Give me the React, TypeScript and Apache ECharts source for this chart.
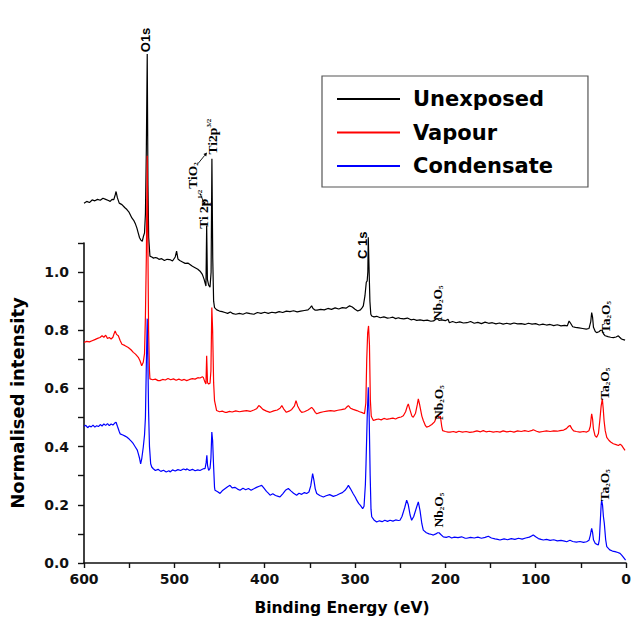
import React, { useEffect, useRef } from 'react';
import * as echarts from 'echarts';

const seriesNames = ['Unexposed', 'Vapour', 'Condensate'];
const seriesColors = ['#000000', '#ff0000', '#0000ff'];

const xLabelValues = [600, 500, 400, 300, 200, 100, 0];
const yLabelValues = ['0.0', '0.2', '0.4', '0.6', '0.8', '1.0'];

// [binding energy (eV), normalised intensity]
const unexposed: [number, number][] = [
  [600, 1.237], [597, 1.243], [594, 1.239], [591, 1.248], [588, 1.245], [585, 1.25], [582, 1.247],
  [579, 1.254], [576, 1.25], [573, 1.246], [571, 1.243], [569, 1.25], [567, 1.249], [565.5, 1.265],
  [564.5, 1.277], [563, 1.255], [561, 1.237], [558, 1.232], [555, 1.222], [552.5, 1.215], [550, 1.205],
  [547, 1.186], [545, 1.178], [543, 1.165], [541.5, 1.152], [540, 1.135], [538.5, 1.118], [537, 1.11],
  [535.5, 1.106], [534, 1.125], [533, 1.135], [532, 1.2], [531, 1.42], [530, 1.75], [529.2, 1.3],
  [528.4, 1.12], [527, 1.055], [525, 1.052], [523, 1.048], [521, 1.05], [519.5, 1.049], [517, 1.044],
  [514, 1.046], [511, 1.04], [508, 1.044], [505, 1.043], [502, 1.038], [499, 1.052], [497.5, 1.072],
  [496, 1.045], [494, 1.04], [491, 1.035], [488, 1.03], [485, 1.031], [482.7, 1.026], [480, 1.02],
  [477, 1.015], [474, 1.01], [471.5, 1.003], [469, 0.992], [467, 0.975], [466, 0.963], [465, 0.952],
  [464.2, 1.16], [463.4, 0.975], [462, 0.955], [460.5, 0.948], [459.3, 1.0], [458.4, 1.39], [457.5, 1.05],
  [456.5, 0.9], [455.5, 0.878], [453, 0.87], [450, 0.866], [447, 0.864], [444, 0.861], [441, 0.858],
  [438, 0.863], [435, 0.857], [432, 0.855], [428, 0.858], [424, 0.855], [420, 0.86], [416, 0.857],
  [412, 0.855], [408, 0.861], [404, 0.858], [400, 0.862], [396, 0.858], [392, 0.862], [388, 0.86],
  [384, 0.864], [380, 0.861], [376, 0.866], [372, 0.864], [368, 0.867], [364, 0.863], [360, 0.866],
  [356, 0.868], [352, 0.87], [349.5, 0.878], [348, 0.884], [346.5, 0.875], [344, 0.869], [342, 0.869],
  [338, 0.872], [334, 0.87], [330, 0.875], [326, 0.872], [322, 0.877], [318, 0.873], [314, 0.878],
  [310, 0.876], [306, 0.884], [303, 0.88], [300, 0.872], [297, 0.866], [294, 0.87], [292, 0.878],
  [290.8, 0.884], [289, 0.918], [287.5, 0.965], [286.5, 0.97], [285.8, 1.0], [285.3, 1.12], [284.5, 1.02],
  [283.5, 0.9], [282.5, 0.855], [281.5, 0.849], [279, 0.846], [276, 0.848], [272, 0.843], [268, 0.846],
  [264, 0.842], [261, 0.843], [258, 0.845], [255, 0.84], [252, 0.843], [250, 0.841], [246, 0.839],
  [242, 0.842], [238, 0.836], [235, 0.838], [231.7, 0.834], [228, 0.836], [224, 0.833], [220, 0.835],
  [216, 0.831], [213, 0.832], [210.5, 0.838], [209, 0.84], [207, 0.834], [204, 0.836], [200, 0.833],
  [197, 0.838], [195.5, 0.826], [192, 0.83], [188, 0.826], [184, 0.829], [180, 0.825], [176, 0.826],
  [172, 0.83], [168, 0.824], [164, 0.827], [160, 0.823], [156, 0.828], [152, 0.824], [148, 0.826],
  [144, 0.822], [140, 0.825], [136, 0.821], [132, 0.824], [128, 0.821], [124, 0.825], [120, 0.822],
  [116, 0.823], [112, 0.82], [108, 0.824], [104, 0.821], [100, 0.823], [96, 0.818], [92, 0.821],
  [88, 0.818], [84, 0.82], [80, 0.816], [76, 0.819], [72, 0.815], [68, 0.817], [65, 0.815], [63, 0.832],
  [61.5, 0.825], [59, 0.812], [56, 0.81], [52, 0.808], [48, 0.806], [44, 0.804], [41, 0.806], [39, 0.83],
  [38, 0.861], [37, 0.845], [36, 0.81], [34, 0.796], [32.5, 0.792], [30, 0.795], [28, 0.8], [26.5, 0.8],
  [25, 0.788], [23, 0.781], [20, 0.778], [17, 0.776], [14, 0.775], [11, 0.777], [8.5, 0.781], [7, 0.776],
  [5, 0.77], [3, 0.768], [1, 0.766],
];

const vapour: [number, number][] = [
  [600, 0.758], [597, 0.762], [594, 0.76], [591, 0.764], [588, 0.768], [585, 0.772], [582.3, 0.775],
  [580, 0.781], [578, 0.776], [576, 0.783], [574, 0.772], [572, 0.775], [570, 0.77], [568, 0.776],
  [566.5, 0.79], [565.5, 0.798], [564, 0.786], [562, 0.781], [560, 0.765], [558, 0.752], [555, 0.748],
  [551, 0.741], [548, 0.733], [545.4, 0.724], [543, 0.718], [539.9, 0.707], [538, 0.695], [536.1, 0.678],
  [534.4, 0.69], [533, 0.72], [532, 0.85], [531, 1.05], [530, 1.4], [529.3, 1.1], [528.5, 0.8],
  [527.5, 0.66], [527, 0.633], [524, 0.63], [521, 0.632], [518, 0.627], [515.9, 0.627], [513, 0.631],
  [510, 0.629], [507, 0.634], [504, 0.63], [501, 0.633], [498, 0.628], [495, 0.632], [492, 0.628],
  [489, 0.631], [486.3, 0.627], [483, 0.631], [480, 0.634], [477, 0.632], [474, 0.637], [471.6, 0.636],
  [469, 0.64], [467.9, 0.638], [466.5, 0.625], [465, 0.615], [464.2, 0.712], [463.3, 0.62], [462, 0.615],
  [460.5, 0.618], [459.5, 0.66], [458.5, 0.878], [457.6, 0.8], [456.5, 0.62], [455.5, 0.558],
  [453.2, 0.524], [450, 0.52], [447, 0.522], [444, 0.518], [442, 0.518], [439, 0.521], [436, 0.519],
  [432, 0.523], [428, 0.52], [424, 0.522], [420, 0.524], [416, 0.521], [412, 0.526], [409, 0.53],
  [406.5, 0.541], [405, 0.538], [402, 0.528], [398, 0.522], [394, 0.518], [390, 0.523], [386, 0.526],
  [383, 0.532], [381, 0.541], [379, 0.53], [376, 0.518], [373, 0.522], [370, 0.528], [367, 0.54],
  [365.3, 0.558], [363.5, 0.54], [361, 0.525], [359, 0.518], [356, 0.52], [352, 0.526], [350, 0.53],
  [348, 0.535], [346, 0.528], [344, 0.518], [342.4, 0.513], [339, 0.517], [335, 0.52], [331, 0.522],
  [327, 0.524], [323, 0.522], [319, 0.525], [315, 0.527], [311, 0.53], [308.5, 0.538], [307.3, 0.541],
  [305, 0.532], [302, 0.528], [298, 0.524], [295, 0.52], [292, 0.517], [289.5, 0.513], [288, 0.55],
  [287, 0.7], [286, 0.79], [285, 0.815], [284, 0.75], [283, 0.56], [282, 0.505], [281.5, 0.501],
  [279.7, 0.49], [277, 0.493], [274, 0.495], [271, 0.492], [268, 0.497], [265, 0.494], [261, 0.496],
  [258, 0.498], [255, 0.495], [252, 0.5], [249, 0.502], [246.5, 0.506], [244, 0.52], [242, 0.54],
  [241, 0.547], [239.5, 0.53], [237, 0.505], [235.5, 0.501], [233, 0.515], [231, 0.545], [229.9, 0.564],
  [228.5, 0.545], [226, 0.505], [224.4, 0.49], [222, 0.472], [220.7, 0.467], [218, 0.47], [215, 0.476],
  [212, 0.485], [210, 0.5], [208.5, 0.507], [207, 0.5], [205.5, 0.505], [204, 0.47], [203, 0.455],
  [200, 0.452], [197, 0.45], [194.8, 0.45], [191, 0.452], [188, 0.449], [185, 0.453], [181, 0.45],
  [177, 0.452], [173, 0.449], [169, 0.451], [165, 0.454], [161, 0.451], [158, 0.455], [155, 0.451],
  [151, 0.453], [147, 0.45], [143, 0.452], [139.5, 0.45], [136, 0.454], [132, 0.451], [128, 0.453],
  [124, 0.45], [120, 0.454], [116, 0.452], [112, 0.455], [108, 0.452], [104, 0.456], [102.6, 0.458],
  [99, 0.453], [96, 0.45], [92, 0.452], [88, 0.454], [84, 0.452], [80, 0.454], [76, 0.453], [73, 0.455],
  [69, 0.457], [66, 0.462], [63.5, 0.47], [62, 0.473], [60, 0.462], [58, 0.454], [55, 0.452], [51, 0.45],
  [47, 0.452], [43.6, 0.45], [41, 0.455], [39.5, 0.47], [38.5, 0.5], [38, 0.513], [37, 0.495], [36, 0.46],
  [34.3, 0.438], [32.5, 0.432], [30.5, 0.445], [29, 0.49], [27.5, 0.54], [26.2, 0.564], [25.2, 0.53],
  [24.3, 0.49], [23, 0.455], [21.3, 0.432], [19, 0.422], [17, 0.416], [14, 0.41], [11, 0.407],
  [8.4, 0.404], [6.5, 0.408], [5, 0.405], [3, 0.396], [1.1, 0.387],
];

const condensate: [number, number][] = [
  [600, 0.47], [598, 0.473], [596, 0.465], [594, 0.471], [592, 0.468], [590, 0.474], [588, 0.467],
  [586, 0.472], [584, 0.469], [582, 0.476], [580, 0.471], [578, 0.478], [576, 0.473], [574, 0.479],
  [572, 0.472], [570, 0.478], [568, 0.474], [566, 0.481], [564.5, 0.484], [563, 0.47], [561, 0.452],
  [560, 0.444], [557, 0.44], [555, 0.437], [552.7, 0.433], [550, 0.426], [547.5, 0.418], [545.4, 0.41],
  [543, 0.398], [541, 0.388], [539.9, 0.376], [538.5, 0.36], [537.3, 0.341], [536, 0.36], [534.4, 0.398],
  [533, 0.44], [532, 0.5], [531, 0.68], [530, 0.84], [529.3, 0.7], [528.5, 0.52], [527.5, 0.4],
  [526.2, 0.341], [525, 0.33], [523.3, 0.324], [521, 0.318], [518, 0.322], [515, 0.315], [512, 0.319],
  [509, 0.313], [506, 0.317], [504.8, 0.313], [502, 0.32], [499, 0.316], [496, 0.321], [493, 0.318],
  [490, 0.323], [487, 0.32], [486.3, 0.324], [483, 0.318], [480, 0.322], [477, 0.317], [474, 0.32],
  [471.6, 0.318], [469, 0.322], [467, 0.325], [466, 0.324], [464.8, 0.345], [464, 0.37], [463.2, 0.335],
  [462, 0.318], [460.5, 0.325], [459.5, 0.36], [458.5, 0.45], [457.6, 0.42], [456.5, 0.33],
  [455.5, 0.26], [455, 0.25], [452, 0.245], [449.4, 0.239], [447, 0.248], [444, 0.255], [441, 0.262],
  [438.4, 0.267], [436, 0.258], [433, 0.26], [430, 0.254], [427.3, 0.25], [424, 0.257], [421, 0.252],
  [418, 0.256], [415, 0.25], [412, 0.255], [409, 0.26], [406, 0.264], [403.3, 0.267], [401, 0.258],
  [398, 0.246], [396, 0.24], [394, 0.233], [391, 0.238], [388, 0.232], [385, 0.229], [383, 0.227],
  [380, 0.238], [377, 0.25], [373.8, 0.256], [371, 0.248], [368, 0.24], [364.6, 0.233], [362, 0.24],
  [359, 0.236], [356, 0.242], [353.5, 0.239], [351, 0.244], [349, 0.265], [347.5, 0.295], [346.9, 0.307],
  [345.5, 0.285], [344, 0.255], [342.4, 0.239], [339, 0.232], [335, 0.227], [332, 0.231], [328, 0.235],
  [324, 0.229], [320.3, 0.233], [317, 0.238], [314, 0.242], [311, 0.25], [309, 0.258], [307.3, 0.267],
  [305, 0.255], [302, 0.238], [299.5, 0.225], [298.1, 0.216], [296, 0.205], [294, 0.198], [291.5, 0.187],
  [290, 0.195], [288.5, 0.27], [287.8, 0.341], [286.5, 0.5], [285.3, 0.604], [284.3, 0.5], [283.2, 0.3],
  [282.3, 0.185], [281.5, 0.159], [279, 0.148], [276, 0.141], [273, 0.145], [270, 0.142], [267, 0.147],
  [264, 0.143], [261.2, 0.147], [258, 0.144], [255, 0.148], [252, 0.146], [250.2, 0.147], [248, 0.16],
  [245, 0.19], [242.8, 0.216], [241, 0.2], [239, 0.165], [237.3, 0.147], [235, 0.16], [232, 0.19],
  [229.9, 0.21], [228, 0.18], [226, 0.135], [224.4, 0.113], [221, 0.104], [218, 0.1], [215, 0.098],
  [213.3, 0.096], [210.5, 0.1], [208.5, 0.104], [207, 0.104], [205, 0.098], [202.2, 0.09], [199, 0.088],
  [196, 0.091], [193, 0.086], [190, 0.089], [186, 0.087], [182, 0.09], [178, 0.085], [176.4, 0.085],
  [172, 0.088], [168, 0.086], [164, 0.089], [160, 0.085], [156, 0.088], [152.4, 0.092], [149, 0.086],
  [145, 0.083], [142, 0.081], [139.5, 0.079], [135, 0.083], [131, 0.08], [127, 0.084], [123, 0.081],
  [119, 0.085], [115, 0.082], [111, 0.086], [107, 0.089], [104, 0.094], [102.6, 0.096], [100, 0.09],
  [97, 0.084], [94, 0.081], [91.5, 0.079], [88, 0.081], [84, 0.078], [80, 0.08], [76, 0.076], [72, 0.078],
  [68, 0.075], [65.7, 0.073], [62, 0.078], [59, 0.074], [55, 0.072], [51, 0.074], [47, 0.071],
  [43.6, 0.073], [41, 0.078], [39.5, 0.095], [38.5, 0.112], [38, 0.119], [37, 0.105], [36, 0.08],
  [34, 0.067], [32, 0.064], [30.6, 0.062], [29.5, 0.08], [28.5, 0.14], [27.5, 0.2], [27, 0.216],
  [26, 0.2], [25, 0.16], [24, 0.136], [22.5, 0.08], [21.3, 0.056], [18, 0.045], [15, 0.041], [12.1, 0.039],
  [9, 0.036], [6.6, 0.033], [4.8, 0.027], [3, 0.02], [1.5, 0.014], [0.5, 0.01],
];

// Peak annotations: rich-text content, anchored at [eV, intensity]
const peakLabels = [
  { text: '{a|O1s}', at: [531.4, 1.798] },
  { text: '{m|TiO}{sub|2}', at: [480.4, 1.332] },
  { text: '{m|Ti 2p}{sup|1/2}', at: [467.8, 1.216] },
  { text: '{m|Ti2p}{sup|3/2}', at: [457.7, 1.466] },
  { text: '{a|C 1s}', at: [292.2, 1.092] },
  { text: '{m|Nb}{sub|2}{m|O}{sub|5}', at: [209.2, 0.894] },
  { text: '{m|Ta}{sub|2}{m|O}{sub|5}', at: [23.2, 0.846] },
  { text: '{m|Nb}{sub|2}{m|O}{sub|5}', at: [208.1, 0.551] },
  { text: '{m|Ta}{sub|2}{m|O}{sub|5}', at: [24.3, 0.616] },
  { text: '{m|Nb}{sub|2}{m|O}{sub|5}', at: [208.1, 0.182] },
  { text: '{m|Ta}{sub|2}{m|O}{sub|5}', at: [24.3, 0.267] },
];

// Leader arrows from the TiO2 label, [eV, intensity] endpoints
const leaderArrows = [
  { from: [473.8, 1.373], to: [463.8, 1.411] },
  { from: [471.6, 1.271], to: [466.0, 1.229] },
];

const data = [unexposed, vapour, condensate];

export default function App() {
  const ref = useRef<HTMLDivElement>(null);

  useEffect(() => {
    if (!ref.current) return;
    const chart = echarts.init(ref.current, undefined, { renderer: 'svg' });
    const boldSans = 'DejaVu Sans';

    const option: any = {
      animation: false,
      backgroundColor: '#ffffff',
      grid: { left: 84, right: 5, top: 243, bottom: 62, containLabel: false, outerBoundsMode: 'none' },
      legend: {
        data: seriesNames,
        orient: 'vertical',
        left: 322,
        top: 76,
        icon: 'rect',
        itemWidth: 63,
        itemHeight: 2,
        itemGap: 12.5,
        padding: [12.5, 35, 10.5, 15],
        borderColor: '#555',
        borderWidth: 1.2,
        backgroundColor: '#ffffff',
        selectedMode: false,
        textStyle: {
          fontFamily: boldSans,
          fontWeight: 'bold',
          fontSize: 21,
          lineHeight: 21,
          color: '#000',
          padding: [0, 0, 0, 8],
        },
      },
      xAxis: {
        type: 'value',
        min: 0,
        max: 600,
        interval: 50,
        inverse: true,
        name: 'Binding Energy (eV)',
        nameLocation: 'middle',
        nameGap: 37,
        nameTextStyle: {
          fontFamily: boldSans,
          fontWeight: 'bold',
          fontSize: 15.5,
          color: '#000',
          padding: [0, 26, 0, 0],
        },
        axisLine: { onZero: false, lineStyle: { color: '#111', width: 1.6 } },
        axisTick: { show: true, length: 5, lineStyle: { color: '#111', width: 1.4 } },
        axisLabel: {
          margin: 9,
          fontFamily: boldSans,
          fontWeight: 'bold',
          fontSize: 14,
          color: '#111',
          formatter: (v: number) => (xLabelValues.includes(Math.round(v)) ? String(Math.round(v)) : ''),
        },
        splitLine: { show: false },
      },
      yAxis: {
        type: 'value',
        min: 0,
        max: 1.1,
        interval: 0.1,
        position: 'left',
        name: 'Normalised intensity',
        nameLocation: 'middle',
        nameGap: 58,
        nameTextStyle: {
          fontFamily: boldSans,
          fontWeight: 'bold',
          fontSize: 18,
          color: '#000',
        },
        axisLine: { show: true, onZero: false, lineStyle: { color: '#111', width: 1.6 } },
        axisTick: { show: true, length: 6, lineStyle: { color: '#111', width: 1.4 } },
        axisLabel: {
          margin: 15,
          fontFamily: boldSans,
          fontWeight: 'bold',
          fontSize: 14,
          color: '#111',
          formatter: (v: number) => {
            const s = (Math.round(v * 10) / 10).toFixed(1);
            return yLabelValues.includes(s) ? s : '';
          },
        },
        splitLine: { show: false },
      },
      series: seriesNames.map((name, i) => ({
        name,
        type: 'line',
        data: data[i],
        symbol: 'none',
        showSymbol: false,
        clip: false,
        silent: true,
        lineStyle: { color: seriesColors[i], width: 1.2 },
        itemStyle: { color: seriesColors[i] },
        z: 2 + i,
      })),
    };

    chart.setOption(option);

    const toPx = (p: number[]) => chart.convertToPixel({ xAxisIndex: 0, yAxisIndex: 0 }, p) as number[];

    const rich = {
      a: { fontFamily: 'Liberation Sans', fontWeight: 'bold', fontSize: 13, color: '#000', lineHeight: 14 },
      m: { fontFamily: 'Liberation Serif', fontWeight: 'bold', fontSize: 13.5, color: '#000', lineHeight: 14 },
      sub: { fontFamily: 'Liberation Serif', fontWeight: 'bold', fontSize: 7, color: '#000', verticalAlign: 'bottom', lineHeight: 8 },
      sup: { fontFamily: 'Liberation Serif', fontWeight: 'bold', fontSize: 7, color: '#000', verticalAlign: 'top', lineHeight: 8 },
    };

    const graphics: any[] = peakLabels.map((lab) => {
      const [px, py] = toPx(lab.at);
      return {
        type: 'text',
        x: px,
        y: py,
        rotation: Math.PI / 2,
        silent: true,
        z: 10,
        style: {
          text: lab.text,
          rich,
          align: 'center',
          verticalAlign: 'middle',
        },
      };
    });

    leaderArrows.forEach((ar) => {
      const [x1, y1] = toPx(ar.from);
      const [x2, y2] = toPx(ar.to);
      const ang = Math.atan2(y2 - y1, x2 - x1);
      const hl = 3.5;
      const hw = 1.8;
      const bx = x2 - hl * Math.cos(ang);
      const by = y2 - hl * Math.sin(ang);
      graphics.push({
        type: 'line',
        silent: true,
        z: 10,
        shape: { x1, y1, x2: bx, y2: by },
        style: { stroke: '#000', lineWidth: 0.9 },
      });
      graphics.push({
        type: 'polygon',
        silent: true,
        z: 10,
        shape: {
          points: [
            [x2, y2],
            [bx + hw * Math.sin(ang), by - hw * Math.cos(ang)],
            [bx - hw * Math.sin(ang), by + hw * Math.cos(ang)],
          ],
        },
        style: { fill: '#000' },
      });
    });

    chart.setOption({ graphic: graphics });

    return () => {
      chart.dispose();
    };
  }, []);

  return (
    <div
      ref={ref}
      style={{ position: 'fixed', left: 0, top: 0, width: 631, height: 625, background: '#fff' }}
    />
  );
}
